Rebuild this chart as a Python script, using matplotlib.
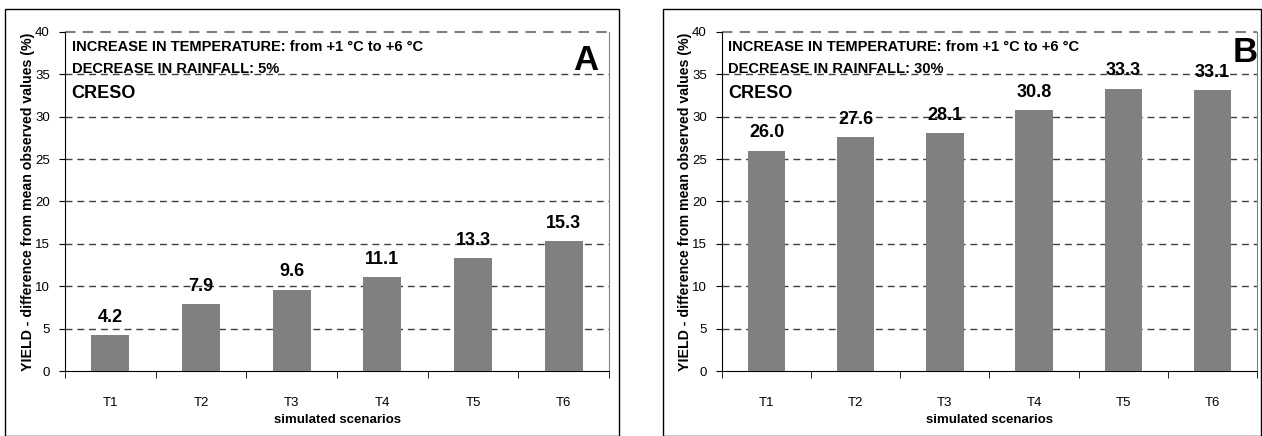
import matplotlib
matplotlib.use('Agg')
import matplotlib.pyplot as plt
from matplotlib.patches import Rectangle

plt.rcParams['font.family'] = ['Liberation Sans', 'DejaVu Sans']

scenarios = ['T1', 'T2', 'T3', 'T4', 'T5', 'T6']
yield_a = [4.2, 7.9, 9.6, 11.1, 13.3, 15.3]
yield_b = [26.0, 27.6, 28.1, 30.8, 33.3, 33.1]
rainfall_a = '5%'
rainfall_b = '30%'

fig = plt.figure(figsize=(12.62, 4.36), dpi=100)

# outer frames round each panel
for x0, w in [(5, 614), (663, 598)]:
    fig.patches.append(Rectangle((x0 / 1262, 0), w / 1262, 426.5 / 436,
                                 transform=fig.transFigure, fill=False,
                                 edgecolor='black', linewidth=1.0))


def draw_panel(rect, values, rainfall, letter, letter_pos):
    ax = fig.add_axes(rect)
    xs = range(len(scenarios))
    ax.bar(xs, values, width=0.42, color='#808080', zorder=3)
    ax.set_xlim(-0.5, 5.5)
    ax.set_ylim(0, 40)
    ax.set_yticks(range(0, 41, 5))
    for y in range(5, 40, 5):
        ax.axhline(y, color='#404040', linestyle=(0, (5, 3.5)), linewidth=1.0, zorder=1)
    ax.axhline(40, color='#808080', linestyle=(0, (5, 3.5)), linewidth=1.5, zorder=1, clip_on=False)
    ax.set_xticks(list(xs))
    ax.set_xticklabels(scenarios)
    ax.set_xticks([i - 0.5 for i in range(7)], minor=True)
    ax.tick_params(axis='x', which='major', length=0, pad=19, labelsize=9.5)
    ax.tick_params(axis='x', which='minor', length=5, direction='out')
    ax.tick_params(axis='y', length=4, direction='out', pad=7, labelsize=9.5)
    ax.spines['top'].set_visible(False)
    ax.spines['right'].set_color('#808080')
    ax.set_xlabel('simulated scenarios', fontsize=9.5, fontweight='bold', labelpad=3)
    ax.set_ylabel('YIELD - difference from mean observed values (%)', fontsize=10.2,
                  fontweight='bold', labelpad=0)
    for i, v in enumerate(values):
        ax.text(i, v + 1.1, f'{v:.1f}', ha='center', va='bottom', fontsize=13,
                fontweight='bold', zorder=4)
    ax.text(0.012, 0.955, 'INCREASE IN TEMPERATURE: from +1 °C to +6 °C', transform=ax.transAxes,
            ha='left', va='center', fontsize=10.5, fontweight='bold')
    ax.text(0.012, 0.89, 'DECREASE IN RAINFALL: ' + rainfall, transform=ax.transAxes,
            ha='left', va='center', fontsize=10.5, fontweight='bold')
    ax.text(0.012, 0.82, 'CRESO', transform=ax.transAxes,
            ha='left', va='center', fontsize=13, fontweight='bold')
    ax.text(letter_pos[0], letter_pos[1], letter, transform=ax.transAxes,
            ha='center', va='center', fontsize=25, fontweight='bold')
    return ax


draw_panel([65 / 1262, 65 / 436, 544 / 1262, 339 / 436], yield_a, rainfall_a, 'A', (0.958, 0.915))
draw_panel([722 / 1262, 65 / 436, 535 / 1262, 339 / 436], yield_b, rainfall_b, 'B', (0.978, 0.94))

fig.savefig('out.png', dpi=100)
